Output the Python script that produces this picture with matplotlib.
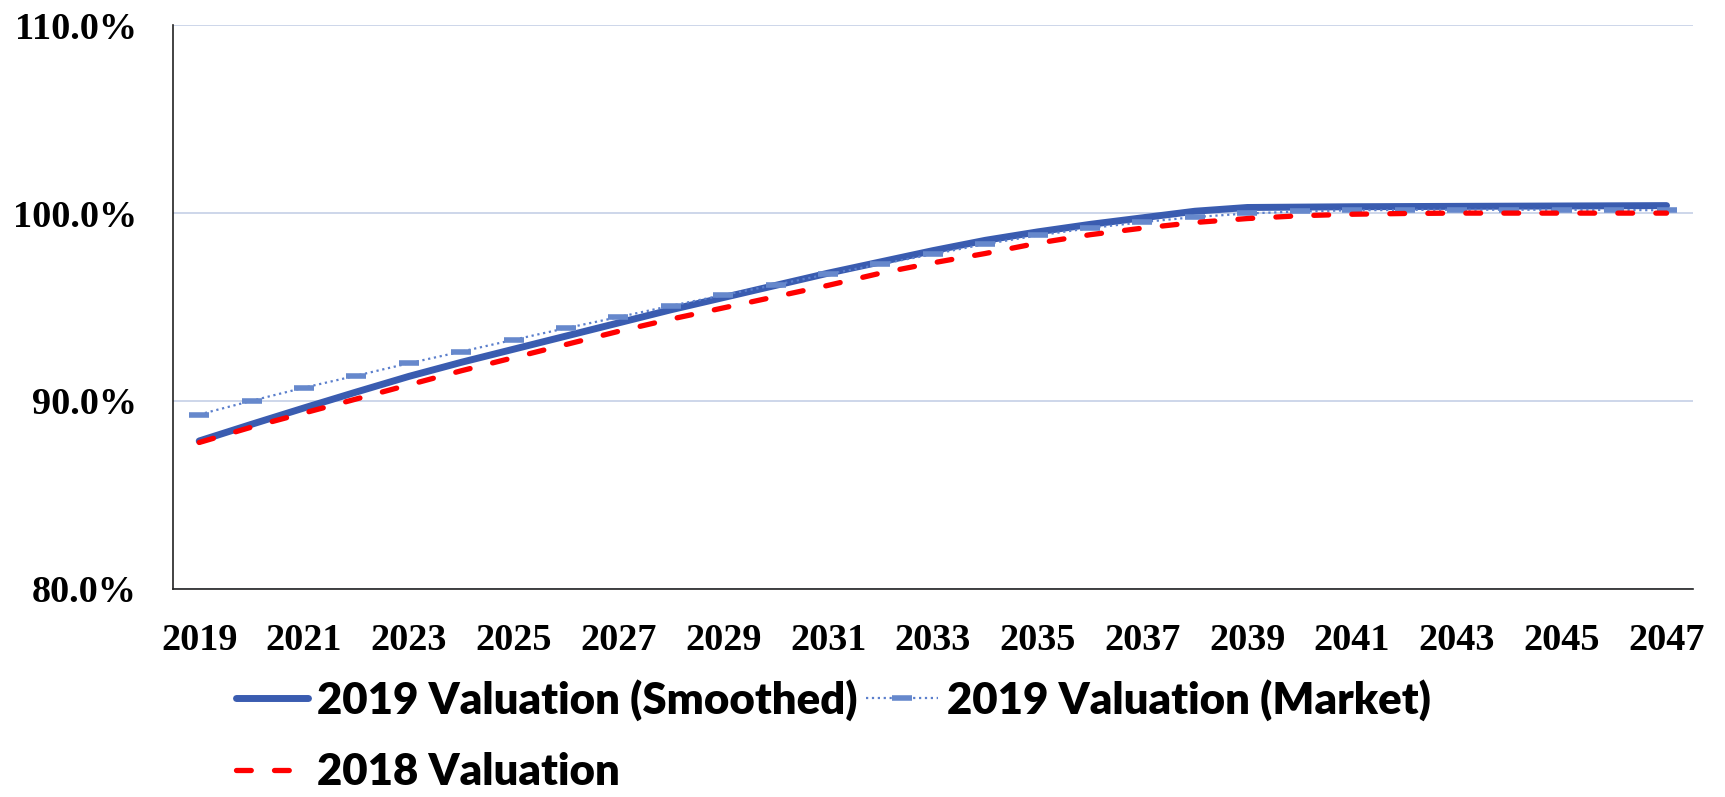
import matplotlib
matplotlib.use("Agg")
from matplotlib import pyplot as plt
from matplotlib.ticker import FuncFormatter
import numpy as np

# data
years = list(range(2019, 2048))
smoothed = [87.86, 88.75, 89.62, 90.47, 91.30, 92.05, 92.75, 93.45, 94.15, 94.85,
            95.50, 96.15, 96.80, 97.40, 98.00, 98.55, 99.00, 99.40, 99.75, 100.10,
            100.30, 100.32, 100.34, 100.35, 100.36, 100.37, 100.38, 100.39, 100.40]
market = [89.27, 90.00, 90.70, 91.34, 92.00, 92.62, 93.25, 93.87, 94.46, 95.06,
          95.63, 96.18, 96.75, 97.28, 97.81, 98.35, 98.81, 99.20, 99.52, 99.79,
          99.98, 100.09, 100.15, 100.17, 100.18, 100.18, 100.18, 100.17, 100.15]
val_2018 = [87.78, 88.60, 89.35, 90.10, 90.85, 91.60, 92.30, 93.00, 93.70, 94.35,
            94.95, 95.55, 96.15, 96.80, 97.35, 97.85, 98.40, 98.85, 99.20, 99.50,
            99.71, 99.86, 99.94, 99.98, 100.00, 100.00, 100.00, 100.00, 100.00]
labels = ["2019 Valuation (Smoothed)", "2019 Valuation (Market)", "2018 Valuation"]
y_ticks = [80, 90, 100, 110]
x_ticks = list(range(2019, 2048, 2))

fig = plt.figure(figsize=(17.25, 7.97), dpi=100)
ax = fig.add_axes([0.1003, 0.2616, 0.881, 0.7065])

l1, = ax.plot(years, smoothed, color="#3A5CB0", lw=5, solid_capstyle="round", zorder=3)
l2, = ax.plot(years, market, color="#5B7FCC", lw=1.6, ls=":", marker="_",
              markersize=15, markeredgewidth=4, markeredgecolor="#6688CC", zorder=4)
l3, = ax.plot(years, val_2018, color="#FF0000", lw=3.8, dashes=(2.8, 4.4),
              dash_capstyle="round", zorder=5)

ax.set_xlim(2018.5, 2047.5)
ax.set_ylim(80, 110)
ax.set_yticks(y_ticks)
ax.set_xticks(x_ticks)
ax.yaxis.set_major_formatter(FuncFormatter(lambda v, p: "{:.1f}%".format(v)))
ax.grid(axis="y", color="#C9D3E8", lw=1.3)
ax.set_axisbelow(True)
for s in ["top", "right"]:
    ax.spines[s].set_visible(False)
for s in ["left", "bottom"]:
    ax.spines[s].set_linewidth(1.2)
    ax.spines[s].set_color("#222222")
ax.tick_params(length=0)
ax.tick_params(axis="y", pad=26)
ax.tick_params(axis="x", pad=25)
for t in ax.get_xticklabels() + ax.get_yticklabels():
    t.set_fontfamily("Liberation Serif")
    t.set_fontweight("bold")
    t.set_fontsize(27.5)

# legend: column 1 = smoothed, 2018 ; column 2 = market
leg = fig.legend([l1, l3, l2], [labels[0], labels[2], labels[1]], ncol=2,
                 loc="upper left", bbox_to_anchor=(236 / 1725, 1 - 679 / 797),
                 frameon=False, borderpad=0, borderaxespad=0, handlelength=1.65,
                 handletextpad=0.2, columnspacing=0.2, labelspacing=0.72,
                 prop={"family": "Lato", "weight": "heavy", "size": 31.5})

plt.savefig("out.png", dpi=100)
